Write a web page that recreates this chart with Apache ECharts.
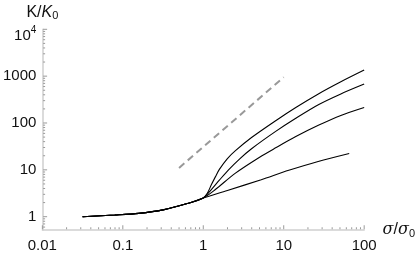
<!DOCTYPE html>
<html><head><meta charset="utf-8">
<script src="https://cdn.jsdelivr.net/npm/echarts@6/dist/echarts.min.js"></script>
<style>html,body{margin:0;padding:0;background:#fff}#c{width:418px;height:253px}</style>
</head><body><div id="c"></div>
<script>
// tick labels
const xTicks = [0.01, 0.1, 1, 10, 100];
const yTicks = [1, 10, 100, 1000, 10000];
// shared low-stress branch
const xCommon = [0.0316, 0.0794, 0.158, 0.316, 0.631, 1.0];
const kCommon = [1.0, 1.084, 1.175, 1.396, 1.905, 2.51];
// four curves (after divergence)
const x1 = [1.995, 5.248, 11.56, 26.79, 65.16];
const k1 = [3.63, 6.17, 9.77, 15.1, 22.4];
const x2 = [1.413, 2.512, 5.012, 7.943, 14.13, 26.92, 51.29, 100];
const k2 = [3.80, 8.51, 18.6, 29.5, 51.3, 89.1, 145, 214];
const x3 = [1.259, 1.585, 2.061, 2.818, 3.981, 7.943, 14.13, 26.92, 51.29, 100];
const k3 = [3.80, 6.03, 10.0, 17.0, 28.2, 66.1, 126, 245, 417, 676];
const x4 = [1.122, 1.259, 1.413, 1.585, 1.995, 2.512, 3.981, 7.943, 14.13, 26.92, 51.29, 100];
const k4 = [3.16, 4.79, 7.08, 10.23, 17.4, 25.7, 49.0, 112, 214, 417, 759, 1349];
// reference slope (dashed)
const xDash = [0.5, 10];
const kDash = [11, 950];

function minors(lo, hi, extra) {
  const out = [];
  for (let d = lo; d < hi; d *= 10) for (let m = 2; m <= 9; m++) out.push(+(d * m).toPrecision(3));
  return out.concat(extra || []);
}
function pts(xa, ya) { return xa.map((x, i) => [x, ya[i]]); }
function curve(xa, ka) { return pts(xCommon.concat(xa), kCommon.concat(ka)); }

const font = 'Liberation Sans, Arial, sans-serif';
const axisLineStyle = { color: '#cfcfcf', width: 1.5 };
const tickColor = '#9a9a9a';
const X = { type: 'log', logBase: 10, min: 0.01, max: 100 };
const Y = { type: 'log', logBase: 10, min: 0.52, max: 10000 };

// inward axis ticks, placed through the axes' own scales
const tickSeries = (vals, dir, len) => ({
  type: 'custom', silent: true, clip: false, z: 5, xAxisIndex: 0, yAxisIndex: 0,
  data: vals.map(v => dir === 'x' ? [v, Y.min] : [X.min, v]),
  renderItem: (params, api) => {
    const p = api.coord([api.value(0), api.value(1)]);
    const shape = dir === 'x'
      ? { x1: p[0], y1: p[1] - 0.75, x2: p[0], y2: p[1] - 0.75 - len }
      : { x1: p[0] + 0.75, y1: p[1], x2: p[0] + 0.75 + len, y2: p[1] };
    return { type: 'line', shape, style: { stroke: tickColor, lineWidth: 1 } };
  }
});

const chart = echarts.init(document.getElementById('c'), null, { renderer: 'canvas' });
const lineS = (d) => ({ type: 'line', data: d, smooth: 0.3, showSymbol: false, symbol: 'none',
  lineStyle: { color: '#000', width: 1.1 }, xAxisIndex: 0, yAxisIndex: 0, silent: true, z: 3 });

chart.setOption({
  animation: false,
  grid: { left: 41.5, right: 47.5, top: 29.3, bottom: 22.5, containLabel: false },
  xAxis: [
    Object.assign({}, X, { position: 'bottom',
      axisLine: { show: true, onZero: false, lineStyle: axisLineStyle },
      axisTick: { show: false },
      axisLabel: { show: true, customValues: xTicks, margin: 8, color: '#111', fontSize: 15, fontFamily: font,
        formatter: v => String(v) },
      splitLine: { show: false },
      name: '{i|σ}{n|/}{i|σ}{s|0}', nameLocation: 'end', nameGap: 10,
      nameTextStyle: { verticalAlign: 'middle', align: 'left', rich: {
        i: { fontStyle: 'italic', fontSize: 16, fontFamily: 'DejaVu Serif, serif', color: '#111' },
        n: { fontSize: 16, fontFamily: font, color: '#111' },
        s: { fontSize: 11, fontFamily: font, color: '#111', verticalAlign: 'bottom', padding: [8, 0, 0, 0] } } } })
  ],
  yAxis: [
    Object.assign({}, Y, { position: 'left',
      axisLine: { show: true, onZero: false, lineStyle: axisLineStyle },
      axisTick: { show: false },
      axisLabel: { show: true, customValues: yTicks, margin: 6, color: '#111', fontSize: 15, fontFamily: font,
        formatter: v => v >= 9999 ? '{b|10}{p|4}' : String(v),
        rich: { b: { fontSize: 15, fontFamily: font, color: '#111', verticalAlign: 'bottom', padding: [14, 0, 0, 0] },
                p: { fontSize: 10, fontFamily: font, color: '#111', verticalAlign: 'top', padding: [10, 0, 0, 0] } } },
      splitLine: { show: false },
      name: '{n|K/}{i|K}{s|0}', nameLocation: 'end', nameGap: 8,
      nameTextStyle: { align: 'center', rich: {
        n: { fontSize: 16, fontFamily: font, color: '#111' },
        i: { fontSize: 16, fontFamily: font, fontStyle: 'italic', color: '#111' },
        s: { fontSize: 11, fontFamily: font, color: '#111', padding: [7, 0, 0, 0] } } } })
  ],
  series: [
    lineS(curve(x1, k1)),
    lineS(curve(x2, k2)),
    lineS(curve(x3, k3)),
    lineS(curve(x4, k4)),
    { type: 'line', data: pts(xDash, kDash), showSymbol: false, symbol: 'none', silent: true,
      lineStyle: { color: '#999', width: 2, type: [7, 4.5] }, z: 2 },
    tickSeries(xTicks, 'x', 4),
    tickSeries(minors(0.01, 100), 'x', 2),
    tickSeries(yTicks, 'y', 4),
    tickSeries(minors(1, 10000, [0.6, 0.7, 0.8, 0.9]), 'y', 2)
  ]
});
</script></body></html>
